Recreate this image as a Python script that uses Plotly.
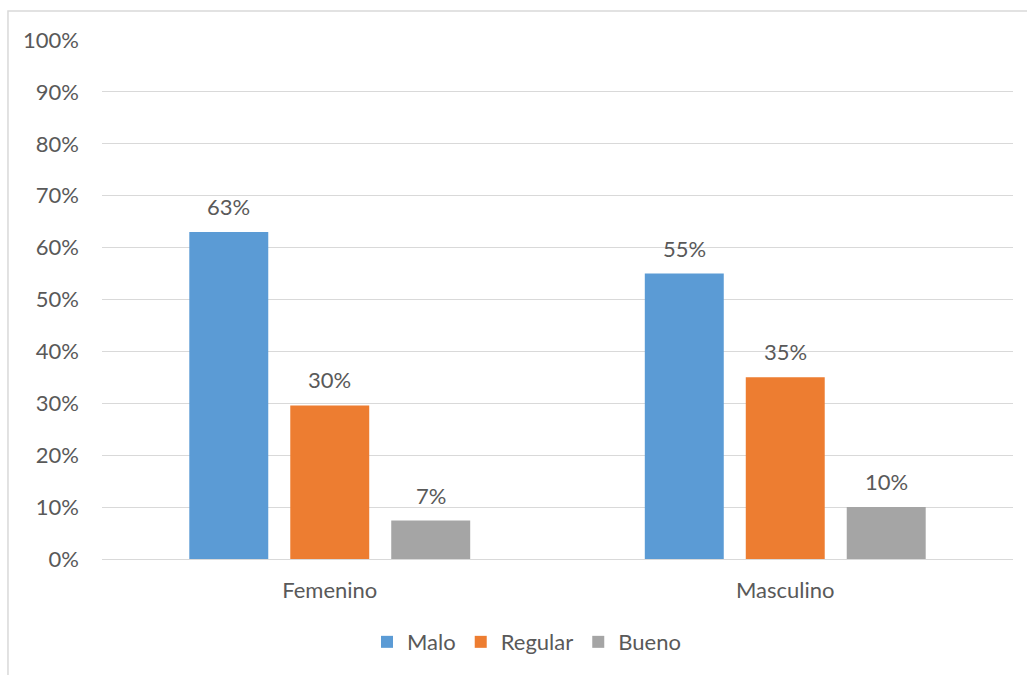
import plotly.graph_objects as go

# Categories and series
generos = ["Femenino", "Masculino"]
malo = [0.63, 0.55]
regular = [0.296, 0.35]
bueno = [0.074, 0.10]

series = [
    ("Malo", malo, "#5B9BD5"),
    ("Regular", regular, "#ED7D31"),
    ("Bueno", bueno, "#A5A5A5"),
]

y_ticks = [i / 10 for i in range(11)]
y_tick_labels = [f"{i * 10}%" for i in range(11)]

FONT = "Lato, Calibri, Carlito, sans-serif"
FSIZE = 22
TEXT_COLOR = "#595959"
GRID = "#D9D9D9"
BARGAP = 0.335
BARGROUPGAP = 0.218

fig = go.Figure()
for name, vals, color in series:
    fig.add_trace(go.Bar(
        x=generos,
        y=vals,
        name=name,
        marker=dict(color=color, line=dict(width=0)),
    ))

# Value labels above each bar, placed at the centre of its slot in the group
slot = (1 - BARGAP) / len(series)
for k, (name, vals, color) in enumerate(series):
    for i, v in enumerate(vals):
        fig.add_annotation(
            x=i + (k - (len(series) - 1) / 2) * slot,
            y=v,
            xref="x", yref="y",
            text=f"{v:.0%}",
            showarrow=False,
            yanchor="bottom",
            yshift=10,
            font=dict(family=FONT, size=FSIZE, color=TEXT_COLOR),
        )

# Outer chart frame
fig.add_shape(
    type="rect", xref="paper", yref="paper",
    x0=-0.1032, y0=-0.4, x1=1.2, y1=1.0559,
    line=dict(color=GRID, width=1.5), fillcolor="rgba(0,0,0,0)",
    layer="below",
)

fig.update_layout(
    width=1027,
    height=675,
    margin=dict(l=102, r=14, t=40, b=116),
    paper_bgcolor="white",
    plot_bgcolor="white",
    barmode="group",
    bargap=BARGAP,
    bargroupgap=BARGROUPGAP,
    font=dict(family=FONT, size=FSIZE, color=TEXT_COLOR),
    showlegend=True,
    legend=dict(
        orientation="h",
        x=0.466, xanchor="center",
        y=-0.16, yanchor="middle",
        font=dict(family=FONT, size=FSIZE, color=TEXT_COLOR),
        itemwidth=30,
        traceorder="normal",
    ),
    xaxis=dict(
        showgrid=False,
        showline=False,
        ticks="",
        ticklabelstandoff=16,
        tickfont=dict(family=FONT, size=FSIZE, color=TEXT_COLOR),
    ),
    yaxis=dict(
        range=[0, 1],
        tickvals=y_ticks,
        ticktext=y_tick_labels,
        showgrid=True,
        gridcolor=GRID,
        gridwidth=1,
        zeroline=True,
        zerolinecolor=GRID,
        zerolinewidth=1,
        showline=False,
        ticks="",
        ticklabelstandoff=22,
        tickfont=dict(family=FONT, size=FSIZE, color=TEXT_COLOR),
    ),
)

fig.write_html("out.html")
